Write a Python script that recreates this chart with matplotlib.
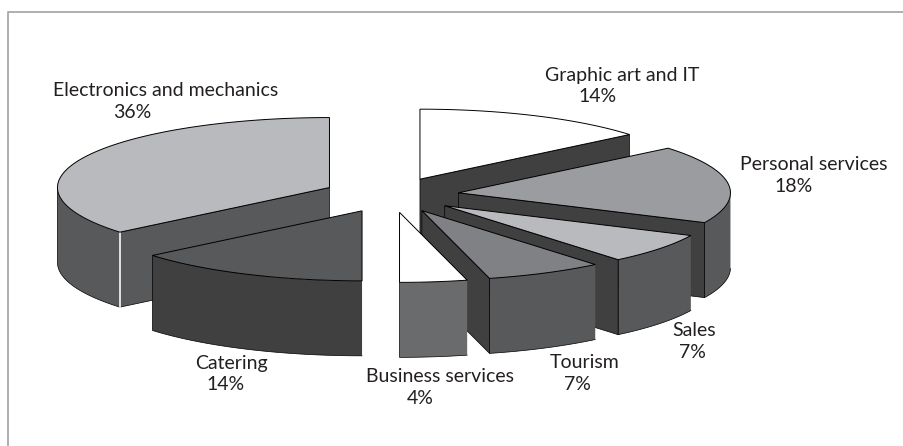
import numpy as np
import matplotlib
matplotlib.use("Agg")
import matplotlib.pyplot as plt

# shares, clockwise from 12 o'clock
names = ["Graphic art and IT", "Personal services", "Sales", "Tourism",
         "Business services", "Catering", "Electronics and mechanics"]
shares = [14, 18, 7, 7, 4, 14, 36]

top_cols = ["#ffffff", "#9b9c9f", "#b9babd", "#808184", "#ffffff", "#58595b", "#b9babd"]
rim_cols = ["#58595b", "#58595b", "#58595b", "#58595b", "#6a6b6d", "#404041", "#58595b"]
cut_cols = ["#404041", "#404041", "#404041", "#404041", "#404041", "#404041", "#58595b"]

name_pos = [(622, 75), (814, 164), (694, 331), (585, 362), (440, 377), (231, 363), (166, 90)]
pct_pos = [(598, 97), (794, 186), (692, 353), (577, 385), (420, 398), (226, 385), (132, 112)]

# pie geometry, pixels
cx, cy = 391, 195
a, b = 272, 70
depth = 75
explode = 0.25

fig = plt.figure(figsize=(9.04, 4.46), dpi=100)
ax = fig.add_axes([0, 0, 1, 1])
ax.set_xlim(0, 904)
ax.set_ylim(446, 0)
ax.axis("off")

# frame, only top and left
ax.plot([904, 8, 8], [12, 12, 446], color="#a7a9ac", lw=1.3)


def pt(t, r=1.0):
    return a * r * np.sin(t), -b * r * np.cos(t)


start = 0.0
for i, s in enumerate(shares):
    t0 = np.radians(start)
    t1 = np.radians(start + s * 3.6)
    start += s * 3.6
    mid = (t0 + t1) / 2
    ox, oy = pt(mid, explode)
    ox += cx
    oy += cy
    ts = np.linspace(t0, t1, 80)
    ax_, ay_ = pt(ts)
    ax_ = ax_ + ox
    ay_ = ay_ + oy
    z = 10 + i if i < 5 else 20 - i

    # outer rim, only the front half shows
    front = (ts >= np.pi / 2) & (ts <= 3 * np.pi / 2)
    if front.any():
        rx = ax_[front]
        ry = ay_[front]
        ax.fill(np.r_[rx, rx[::-1]], np.r_[ry, ry[::-1] + depth], fc=rim_cols[i], ec="none", zorder=z)
        ax.plot(np.r_[rx[0], rx, rx[-1]], np.r_[ry[0] + depth, ry + depth, ry[-1]], color="k", lw=0.5, zorder=z)

    # cut face that looks toward the viewer
    face = None
    if np.sin(t1) > 1e-6:
        face = t1
    elif t0 > np.pi + 1e-6:
        face = t0
    if face is not None:
        ex, ey = pt(face)
        ex += ox
        ey += oy
        ax.fill([ox, ex, ex, ox], [oy, ey, ey + depth, oy + depth], fc=cut_cols[i], ec="k", lw=0.5, zorder=z + 0.1)
        if t0 > np.pi:
            # white seam between the cut face and the rim
            ax.plot([ex, ex], [ey, ey + depth], color="w", lw=1.2, zorder=z + 0.15)

    # top face
    ax.fill(np.r_[ox, ax_], np.r_[oy, ay_], fc=top_cols[i], ec="k", lw=0.7, zorder=z + 0.2)

    ax.text(*name_pos[i], names[i], ha="center", va="center", family="Lato", fontsize=14, color="#231f20", zorder=30)
    ax.text(*pct_pos[i], f"{s}%", ha="center", va="center", family="Lato", fontsize=14, color="#231f20", zorder=30)

fig.savefig("out.png", dpi=100)
